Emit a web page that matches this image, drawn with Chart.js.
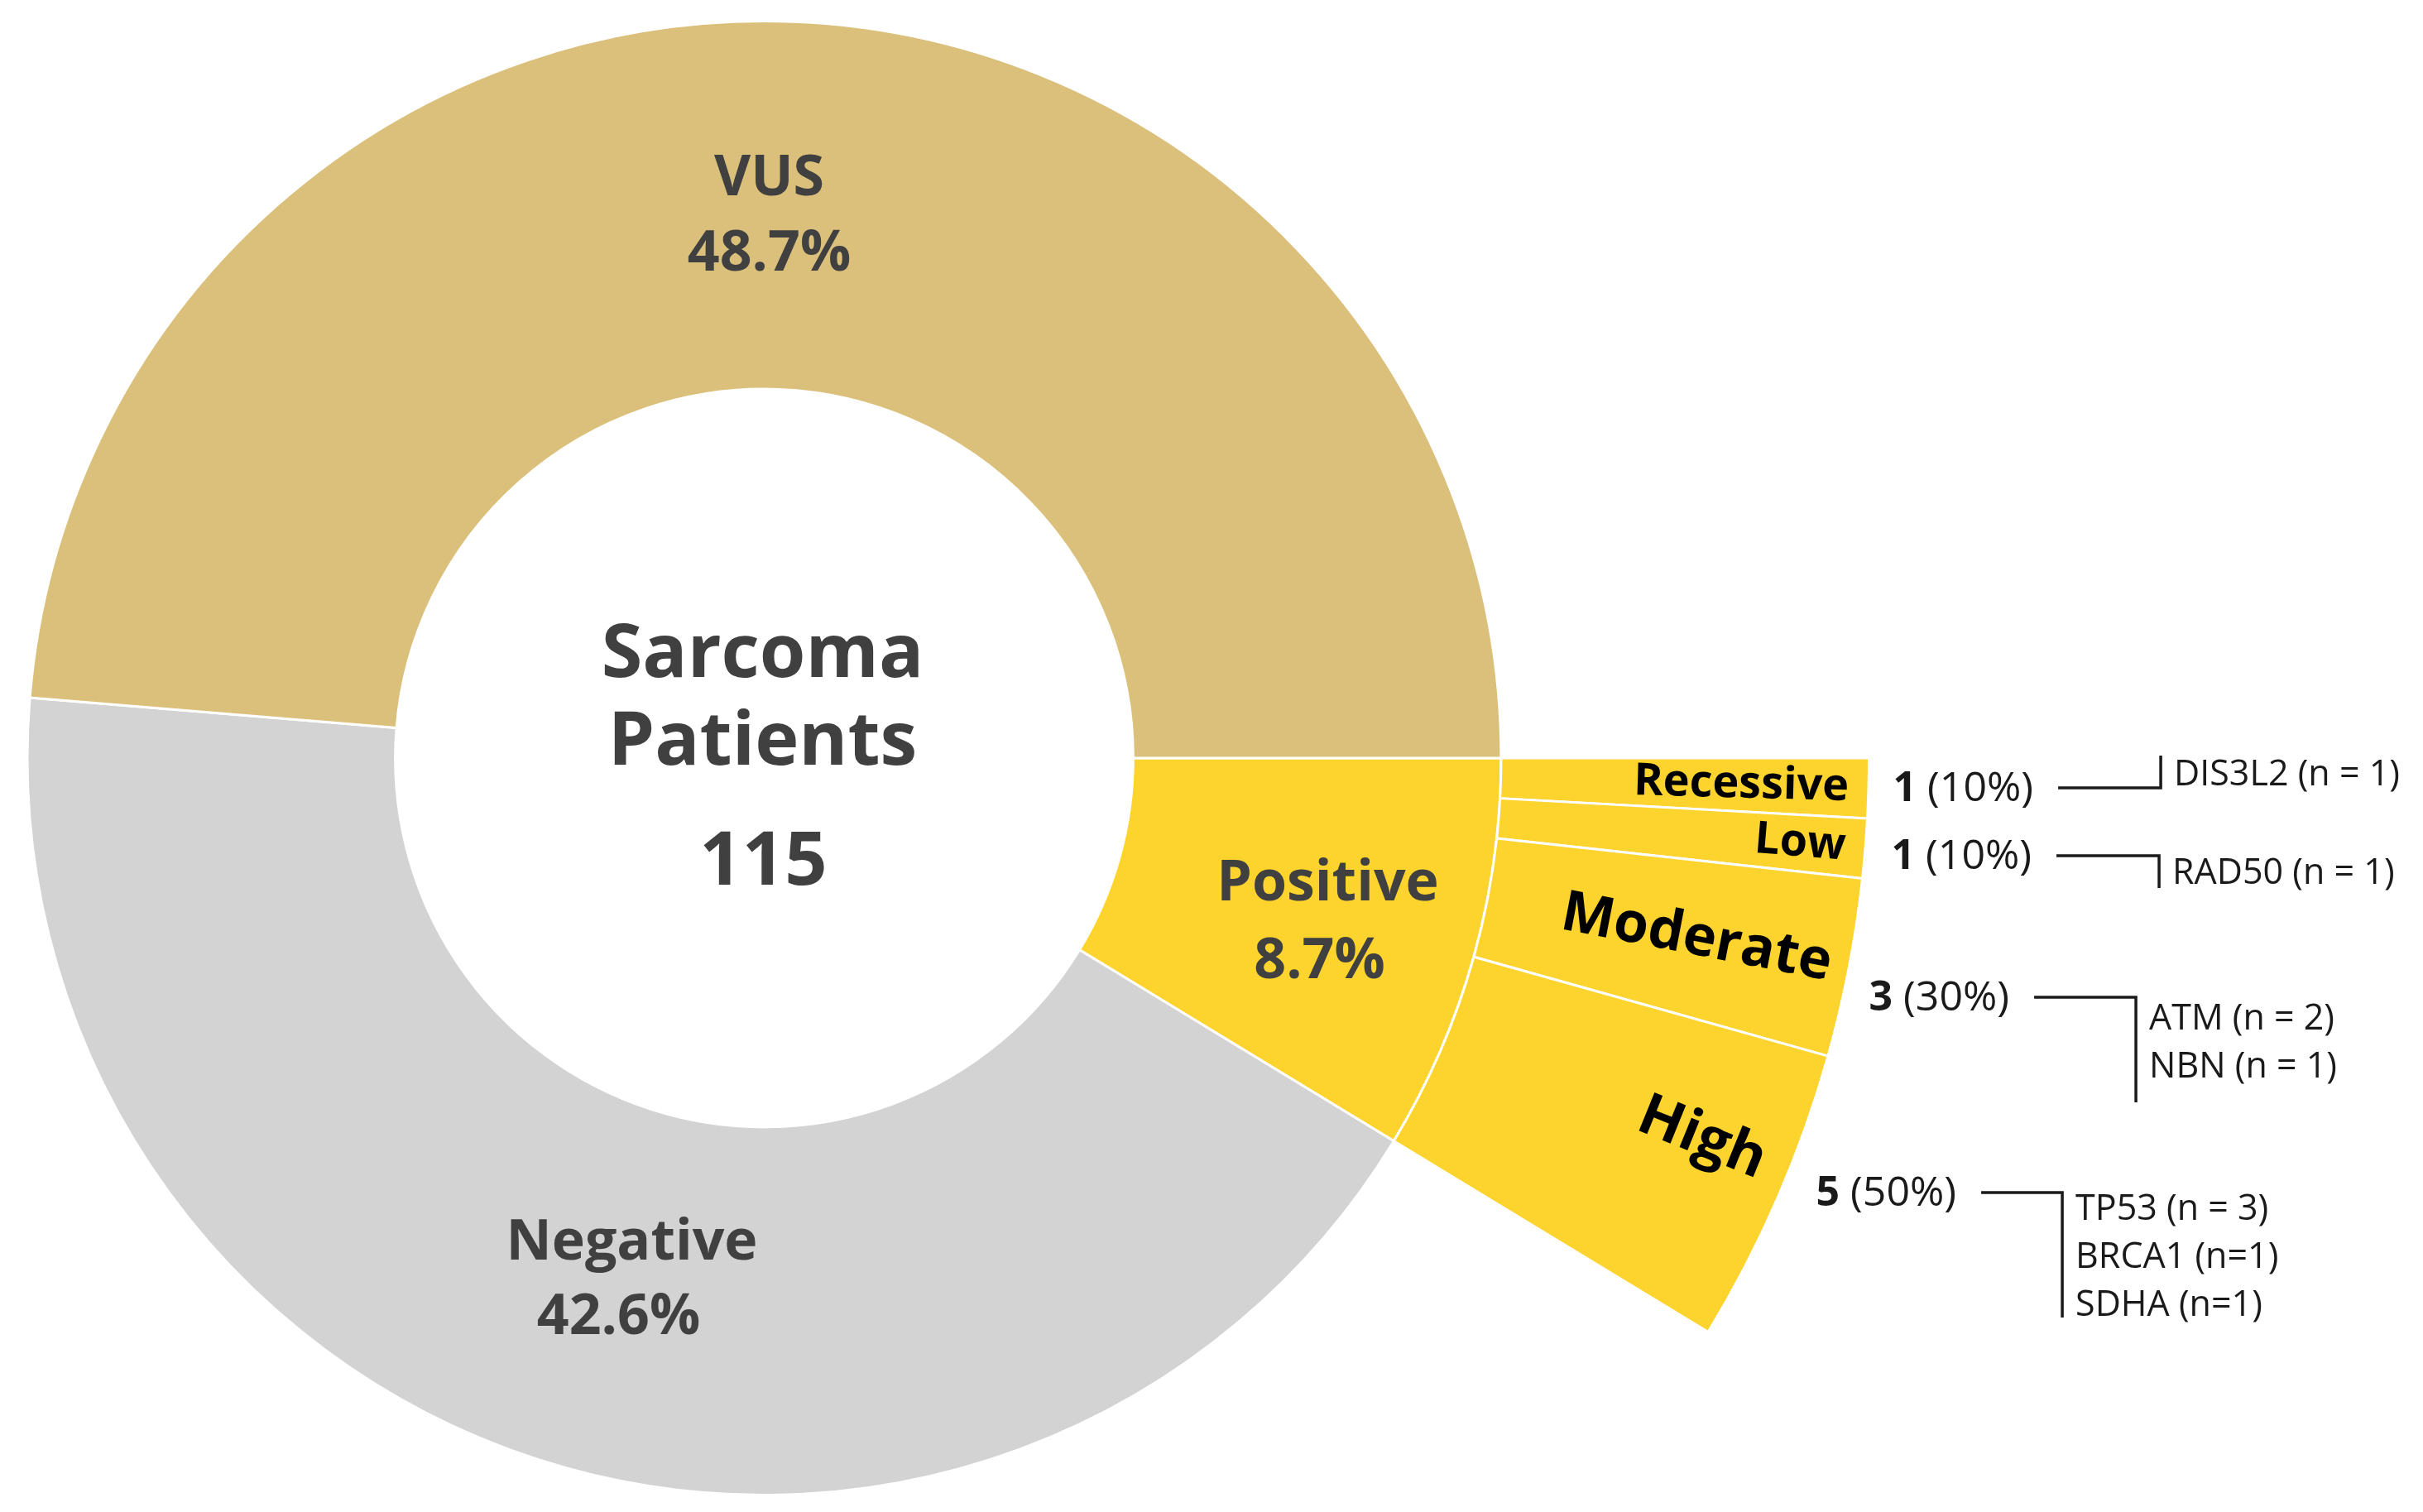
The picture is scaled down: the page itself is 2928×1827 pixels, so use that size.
<!DOCTYPE html>
<html>
<head>
<meta charset="utf-8">
<script src="https://cdn.jsdelivr.net/npm/chart.js@4.4.1/dist/chart.umd.min.js"></script>
<style>
  html, body { margin: 0; padding: 0; background: #ffffff; overflow: hidden; width: 2928px; height: 1827px; }
  canvas { display: block; }
</style>
</head>
<body>
<canvas id="c" width="2928" height="1827" style="width:2928px;height:1827px"></canvas>
<script>
// ---------------- data ----------------
const centerTitle = ['Sarcoma', 'Patients'];
const totalPatients = 115;
const resultLabels = ['Positive', 'Negative', 'VUS'];
const resultCounts = [10, 49, 56];
const riskLabels = ['Recessive', 'Low', 'Moderate', 'High'];
const riskCounts = [1, 1, 3, 5];
const riskGenes = [
  ['DIS3L2 (n = 1)'],
  ['RAD50 (n = 1)'],
  ['ATM (n = 2)', 'NBN (n = 1)'],
  ['TP53 (n = 3)', 'BRCA1 (n=1)', 'SDHA (n=1)']
];

// ---------------- styles ----------------
const YELLOW = '#FDD42E';
const resultColors = [YELLOW, '#D3D3D3', '#DBC07B'];
const FONT = '"Open Sans", "Noto Sans", "DejaVu Sans", sans-serif';

const positiveTotal = riskCounts.reduce((a, b) => a + b, 0);

const labelPlugin = {
  id: 'sunburstLabels',
  afterDatasetsDraw(chart) {
    const ctx = chart.ctx;
    const outer = chart.getDatasetMeta(0).data;
    const inner = chart.getDatasetMeta(1).data;
    const cx = inner[0].x, cy = inner[0].y;
    ctx.save();

    // centre title
    ctx.fillStyle = '#404040';
    ctx.textAlign = 'center';
    ctx.textBaseline = 'alphabetic';
    ctx.font = `700 90px ${FONT}`;
    ctx.fillText(centerTitle[0], cx - 2, cy - 98);
    ctx.fillText(centerTitle[1], cx - 2, cy + 8);
    ctx.fillText(String(totalPatients), cx - 1, cy + 153);

    // main ring labels (name line, percent line) offsets from centre
    const mainPos = [
      [[681, 172], [671, 266]],
      [[-160, 606], [-176, 696]],
      [[6, -680], [6, -589]]
    ];
    ctx.font = `700 68px ${FONT}`;
    resultLabels.forEach((l, i) => {
      const pct = (resultCounts[i] / totalPatients * 100).toFixed(1) + '%';
      ctx.fillText(l, cx + mainPos[i][0][0], cy + mainPos[i][0][1]);
      ctx.fillText(pct, cx + mainPos[i][1][0], cy + mainPos[i][1][1]);
    });

    // outer ring labels, rotated along the segment's middle angle
    const sizes = [54, 54, 68, 70];
    const angTweak = [0, 0, 0, -1.4 * Math.PI / 180];
    const inset = [24, 24, 22, 32];
    ctx.fillStyle = '#000000';
    riskLabels.forEach((l, i) => {
      const a = outer[i];
      const mid = (a.startAngle + a.endAngle) / 2 + angTweak[i];
      ctx.save();
      ctx.translate(cx, cy);
      ctx.rotate(mid);
      ctx.textAlign = 'right';
      ctx.textBaseline = 'middle';
      ctx.font = `700 ${sizes[i]}px ${FONT}`;
      ctx.fillText(l, a.outerRadius - inset[i], 0);
      ctx.restore();
    });

    // call-outs: count (percent) + bracket + gene list
    const callPos = [[1364, 52], [1362, 134], [1335, 305], [1271, 541]];
    const hLen = [124, 124, 123, 98];
    const vLen = [-39, 39, 127, 151];
    const firstGene = [-3, 34, 39, 33];
    ctx.textAlign = 'left';
    ctx.textBaseline = 'alphabetic';
    ctx.strokeStyle = '#1a1a1a';
    ctx.fillStyle = '#1a1a1a';
    ctx.lineWidth = 3.5;
    riskCounts.forEach((n, i) => {
      const x0 = cx + callPos[i][0];
      const yb = cy + callPos[i][1];
      ctx.font = `700 50px ${FONT}`;
      const numStr = String(n);
      ctx.fillText(numStr, x0, yb);
      const w1 = ctx.measureText(numStr).width;
      ctx.font = `400 50px ${FONT}`;
      const pctStr = ' (' + Math.round(n / positiveTotal * 100) + '%)';
      ctx.fillText(pctStr, x0 + w1, yb);
      const w2 = ctx.measureText(pctStr).width;
      const lx = x0 + w1 + w2 + 30;
      const ly = yb - 16;
      const vx = lx + hLen[i];
      ctx.beginPath();
      ctx.moveTo(lx, ly);
      ctx.lineTo(vx, ly);
      ctx.lineTo(vx, ly + vLen[i]);
      ctx.stroke();
      ctx.font = `400 43px ${FONT}`;
      riskGenes[i].forEach((g, k) => {
        ctx.fillText(g, vx + 16, ly + firstGene[i] + k * 58);
      });
    });

    ctx.restore();
  }
};

function draw() {
  new Chart(document.getElementById('c'), {
    type: 'doughnut',
    data: {
      labels: riskLabels.concat(['']),
      datasets: [
        {
          label: 'Positive by risk',
          data: riskCounts.concat([totalPatients - positiveTotal]),
          backgroundColor: riskCounts.map(() => YELLOW).concat(['rgba(0,0,0,0)']),
          borderColor: '#ffffff',
          borderWidth: riskCounts.map(() => 3).concat([0]),
          clip: false
        },
        {
          label: 'Result',
          data: resultCounts,
          backgroundColor: resultColors,
          borderColor: '#ffffff',
          borderWidth: 3,
          clip: false
        }
      ]
    },
    options: {
      responsive: false,
      devicePixelRatio: 1,
      animation: false,
      events: [],
      rotation: 90,
      radius: 1335,
      cutout: '33.4%',
      layout: { padding: { left: 0, right: 1081, top: 5, bottom: 0 } },
      plugins: { legend: { display: false }, tooltip: { enabled: false } }
    },
    plugins: [labelPlugin]
  });
}

Promise.all([
  document.fonts.load(`700 68px "Open Sans"`),
  document.fonts.load(`400 50px "Open Sans"`)
]).then(draw, draw);
</script>
</body>
</html>
